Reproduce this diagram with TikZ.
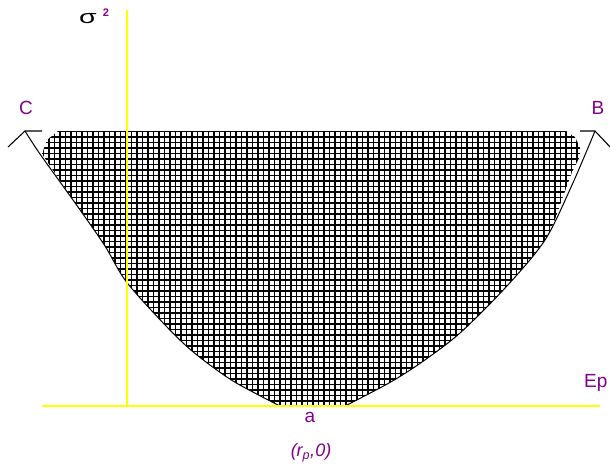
\documentclass[tikz,border=0pt]{standalone}
\usepackage{fontspec}
\setmainfont{Liberation Sans}
\definecolor{purp}{RGB}{130,0,140}
\definecolor{axisyellow}{RGB}{255,255,0}
\begin{document}
\begin{tikzpicture}[x=1pt,y=-1pt,
  axisline/.style={draw=axisyellow,line width=2pt},
  curveline/.style={draw=black,line width=1pt},
  barb/.style={draw=black,line width=1.1pt},
  hatchline/.style={draw=black,line width=1.7pt},
  lbl/.style={text=purp,font=\fontsize{19}{19}\selectfont,inner sep=0pt}]
\useasboundingbox (0,0) rectangle (610,467);
% hatched region
\begin{scope}
\clip (58,131) -- (566,131) -- (575,137) -- (580,148) -- (580,156) -- (572,172)
  -- (560,205)
  -- plot[smooth] coordinates {(560,205) (545,240) (506,287) (460,333) (422,362) (389,383) (345,406)}
  -- (280,406)
  -- plot[smooth] coordinates {(280,406) (233,381) (194.5,353) (167,327) (126.5,282) (105,246) (78,207) (42,154)}
  -- (47,140) -- cycle;
\foreach \i in {0,...,100} {
  \draw[hatchline] ({38+5.5*\i},125) -- ({38+5.5*\i},412);
}
\foreach \j in {0,...,52} {
  \draw[hatchline] (36,{131.5+5.5*\j}) -- (604,{131.5+5.5*\j});
}
\end{scope}
% frontier curve
\coordinate (ctip) at (25,131);
\coordinate (btip) at (595,131);
\draw[curveline] plot[smooth] coordinates {(25,131) (40,154) (78,207) (105,246) (126.5,282) (167,327) (194.5,353) (233,381) (280,406)};
\draw[curveline] plot[smooth] coordinates {(345,406) (389,383) (422,362) (460,333) (506,287) (545,240) (572,185) (595,131)};
% arrow barbs
\coordinate (cb1) at (8,147);
\coordinate (cb2) at (42,131);
\coordinate (bb1) at (580,131);
\coordinate (bb2) at (612,149);
\draw[barb] (cb1) -- (ctip) -- (cb2);
\draw[barb] (bb1) -- (btip) -- (bb2);
% axes
\coordinate (xa0) at (42,406);
\coordinate (xa1) at (600,406);
\coordinate (ya0) at (127,406);
\coordinate (ya1) at (127,10);
\draw[axisline] (xa0) -- (xa1);
\draw[axisline] (ya0) -- (ya1);
% labels
\node[inner sep=0pt,font=\fontsize{19}{19}\selectfont] (sig) at (88,19) {\scalebox{1.5}[1]{σ}};
\node[lbl,font=\fontsize{11}{11}\selectfont\bfseries] (sq) at (106,13) {2};
\node[lbl] (lc) at (26,108) {C};
\node[lbl] (lb) at (598,108) {B};
\node[lbl,anchor=west] (lep) at (584,383) {Ep};
\node[lbl] (la) at (310,417) {a};
\node[lbl,font=\fontsize{18}{18}\selectfont\itshape] (lr) at (311,453) {(r\textsubscript{p},0)};
\end{tikzpicture}
\end{document}
